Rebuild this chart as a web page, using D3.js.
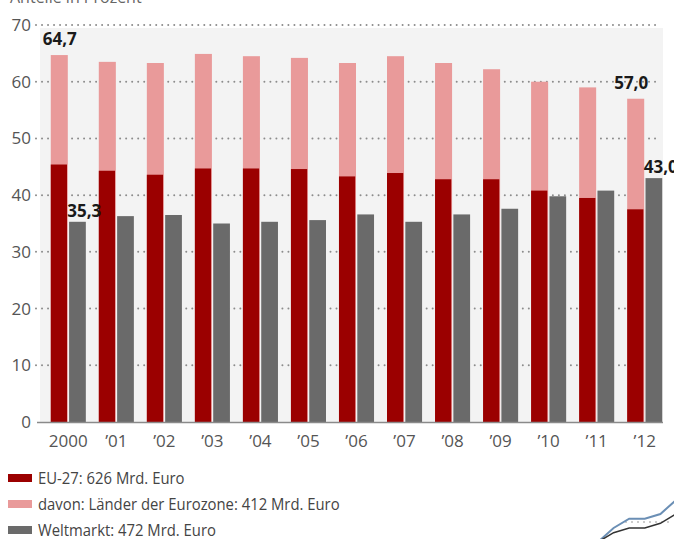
<!DOCTYPE html>
<html>
<head>
<meta charset="utf-8">
<script src="https://cdn.jsdelivr.net/npm/d3@7"></script>
<style>
  html, body { margin: 0; padding: 0; background: #fff; }
  svg { display: block; font-family: "Open Sans", "Noto Sans", sans-serif; }
</style>
</head>
<body>
<div id="mainDiv"></div>
<script>
'use strict';

// data
var years      = ['2000', '\u201901', '\u201902', '\u201903', '\u201904', '\u201905', '\u201906', '\u201907', '\u201908', '\u201909', '\u201910', '\u201911', '\u201912'];
var eu27       = [64.7, 63.5, 63.3, 64.9, 64.5, 64.2, 63.3, 64.5, 63.3, 62.2, 60.0, 59.0, 57.0];
var eurozone   = [45.4, 44.3, 43.6, 44.7, 44.7, 44.6, 43.3, 43.9, 42.8, 42.8, 40.8, 39.5, 37.5];
var weltmarkt  = [35.3, 36.3, 36.5, 35.0, 35.3, 35.6, 36.6, 35.3, 36.6, 37.6, 39.8, 40.8, 43.0];
var yTicks     = [0, 10, 20, 30, 40, 50, 60, 70];
var legendRows = [
    {label: 'EU-27: 626 Mrd. Euro', color: '#9b0000'},
    {label: 'davon: L\u00e4nder der Eurozone: 412 Mrd. Euro', color: '#e99a9a'},
    {label: 'Weltmarkt: 472 Mrd. Euro', color: '#6a6a6a'}
];
// labelled values: index and series
var callouts = [
    {i: 0,  series: 'eu27', text: '64,7'},
    {i: 0,  series: 'welt', text: '35,3'},
    {i: 12, series: 'eu27', text: '57,0'},
    {i: 12, series: 'welt', text: '43,0'}
];
// cut-off decoration in the bottom right corner
var decoX    = [0, 1, 2, 3, 4, 5];
var decoBlue = [0, 3, 5, 5, 6, 9];
var decoDark = [0, 2, 3, 3, 4, 6];

var myApp = {};

myApp.W = 674;
myApp.H = 539;
myApp.m = {left: 38, right: 11, top: 25, bottom: 117};

myApp.run = function()
{
    var W = myApp.W, H = myApp.H, m = myApp.m;

    var svg = d3.select('#mainDiv').append('svg')
        .attr('width', W)
        .attr('height', H);

    var x = d3.scaleBand()
        .domain(years)
        .range([m.left + 7, W - m.right + 5])
        .paddingInner(0.27)
        .paddingOuter(0.12);

    var y = d3.scaleLinear()
        .domain([0, 70])
        .range([H - m.bottom, m.top]);

    var half = x.bandwidth() / 2;

    // light band behind the bars
    svg.append('rect')
        .attr('x', 40)
        .attr('y', y(70) + 3)
        .attr('width', 623)
        .attr('height', y(0) - y(70) - 3)
        .attr('fill', '#f3f3f3');

    // grid lines (round dots)
    svg.append('g').selectAll('line')
        .data(yTicks.filter(function(d){ return d > 0; }))
        .enter()
        .append('line')
        .attr('x1', 36)
        .attr('x2', 660)
        .attr('y1', function(d){ return y(d); })
        .attr('y2', function(d){ return y(d); })
        .attr('stroke', '#8c8c8c')
        .attr('stroke-width', 2)
        .attr('stroke-dasharray', '0.01,6')
        .attr('stroke-linecap', 'round');

    // y labels
    svg.append('g').selectAll('text')
        .data(yTicks)
        .enter()
        .append('text')
        .attr('x', 31)
        .attr('y', function(d){ return y(d) + 6; })
        .attr('text-anchor', 'end')
        .attr('font-size', 17)
        .attr('fill', '#555')
        .text(function(d){ return d; });

    // title, mostly cut off at the top
    svg.append('text')
        .attr('x', 10)
        .attr('y', 3)
        .attr('font-size', 16)
        .attr('fill', '#666')
        .text('Anteile in Prozent');

    var groups = svg.append('g').selectAll('g')
        .data(years)
        .enter()
        .append('g');

    groups.append('rect')
        .attr('x', function(d){ return x(d); })
        .attr('y', function(d, i){ return y(eu27[i]); })
        .attr('width', half - 0.5)
        .attr('height', function(d, i){ return y(0) - y(eu27[i]); })
        .attr('fill', '#e99a9a');

    groups.append('rect')
        .attr('x', function(d){ return x(d); })
        .attr('y', function(d, i){ return y(eurozone[i]); })
        .attr('width', half - 1.3)
        .attr('height', function(d, i){ return y(0) - y(eurozone[i]); })
        .attr('fill', '#9b0000');

    groups.append('rect')
        .attr('x', function(d){ return x(d) + half + 0.8; })
        .attr('y', function(d, i){ return y(weltmarkt[i]); })
        .attr('width', half - 0.8)
        .attr('height', function(d, i){ return y(0) - y(weltmarkt[i]); })
        .attr('fill', '#6a6a6a');

    // baseline
    svg.append('line')
        .attr('x1', 37)
        .attr('x2', 663)
        .attr('y1', y(0) + 0.5)
        .attr('y2', y(0) + 0.5)
        .attr('stroke', '#8a8a8a')
        .attr('stroke-width', 1.5);

    // x labels
    groups.append('text')
        .attr('x', function(d){ return x(d) + half; })
        .attr('y', y(0) + 25)
        .attr('text-anchor', 'middle')
        .attr('font-size', 17)
        .attr('fill', '#555')
        .text(function(d){ return d; });

    // value labels
    svg.append('g').selectAll('text')
        .data(callouts)
        .enter()
        .append('text')
        .attr('x', function(d){
            if(d.series === 'eu27') return d.i === 0 ? x(years[d.i]) - 8 : x(years[d.i]) - 13;
            return x(years[d.i]) + half - 1;
        })
        .attr('y', function(d){
            var v = d.series === 'eu27' ? eu27[d.i] : weltmarkt[d.i];
            return y(v) - (d.series === 'eu27' ? 10 : 5);
        })
        .attr('font-size', 17)
        .attr('font-weight', 'bold')
        .attr('fill', '#1a1a1a')
        .text(function(d){ return d.text; });

    // legend
    var leg = svg.append('g').selectAll('g')
        .data(legendRows)
        .enter()
        .append('g')
        .attr('transform', function(d, i){ return 'translate(8,' + (474 + i * 26) + ')'; });

    leg.append('rect')
        .attr('width', 24)
        .attr('height', 8)
        .attr('fill', function(d){ return d.color; });

    leg.append('text')
        .attr('transform', 'translate(30,10) scale(0.9,1)')
        .attr('font-size', 16.5)
        .attr('fill', '#444')
        .text(function(d){ return d.label; });

    // decoration bottom right
    var dx = d3.scaleLinear().domain([0, 5]).range([598, 676]);
    var dy = d3.scaleLinear().domain([0, 9]).range([542, 500]);
    svg.append('line')
        .attr('x1', 625).attr('x2', 672)
        .attr('y1', 522).attr('y2', 522)
        .attr('stroke', '#999')
        .attr('stroke-dasharray', '2,4');
    svg.append('path')
        .datum(decoX)
        .attr('d', d3.line()
            .x(function(d){ return dx(d); })
            .y(function(d, i){ return dy(decoBlue[i]); }))
        .attr('fill', 'none')
        .attr('stroke', '#6b8fb5')
        .attr('stroke-width', 2);
    svg.append('path')
        .datum(decoX)
        .attr('d', d3.line()
            .x(function(d){ return dx(d); })
            .y(function(d, i){ return dy(decoDark[i]); }))
        .attr('fill', 'none')
        .attr('stroke', '#333')
        .attr('stroke-width', 1.5);
}

window.myApp = myApp;
myApp.run();
</script>
</body>
</html>
